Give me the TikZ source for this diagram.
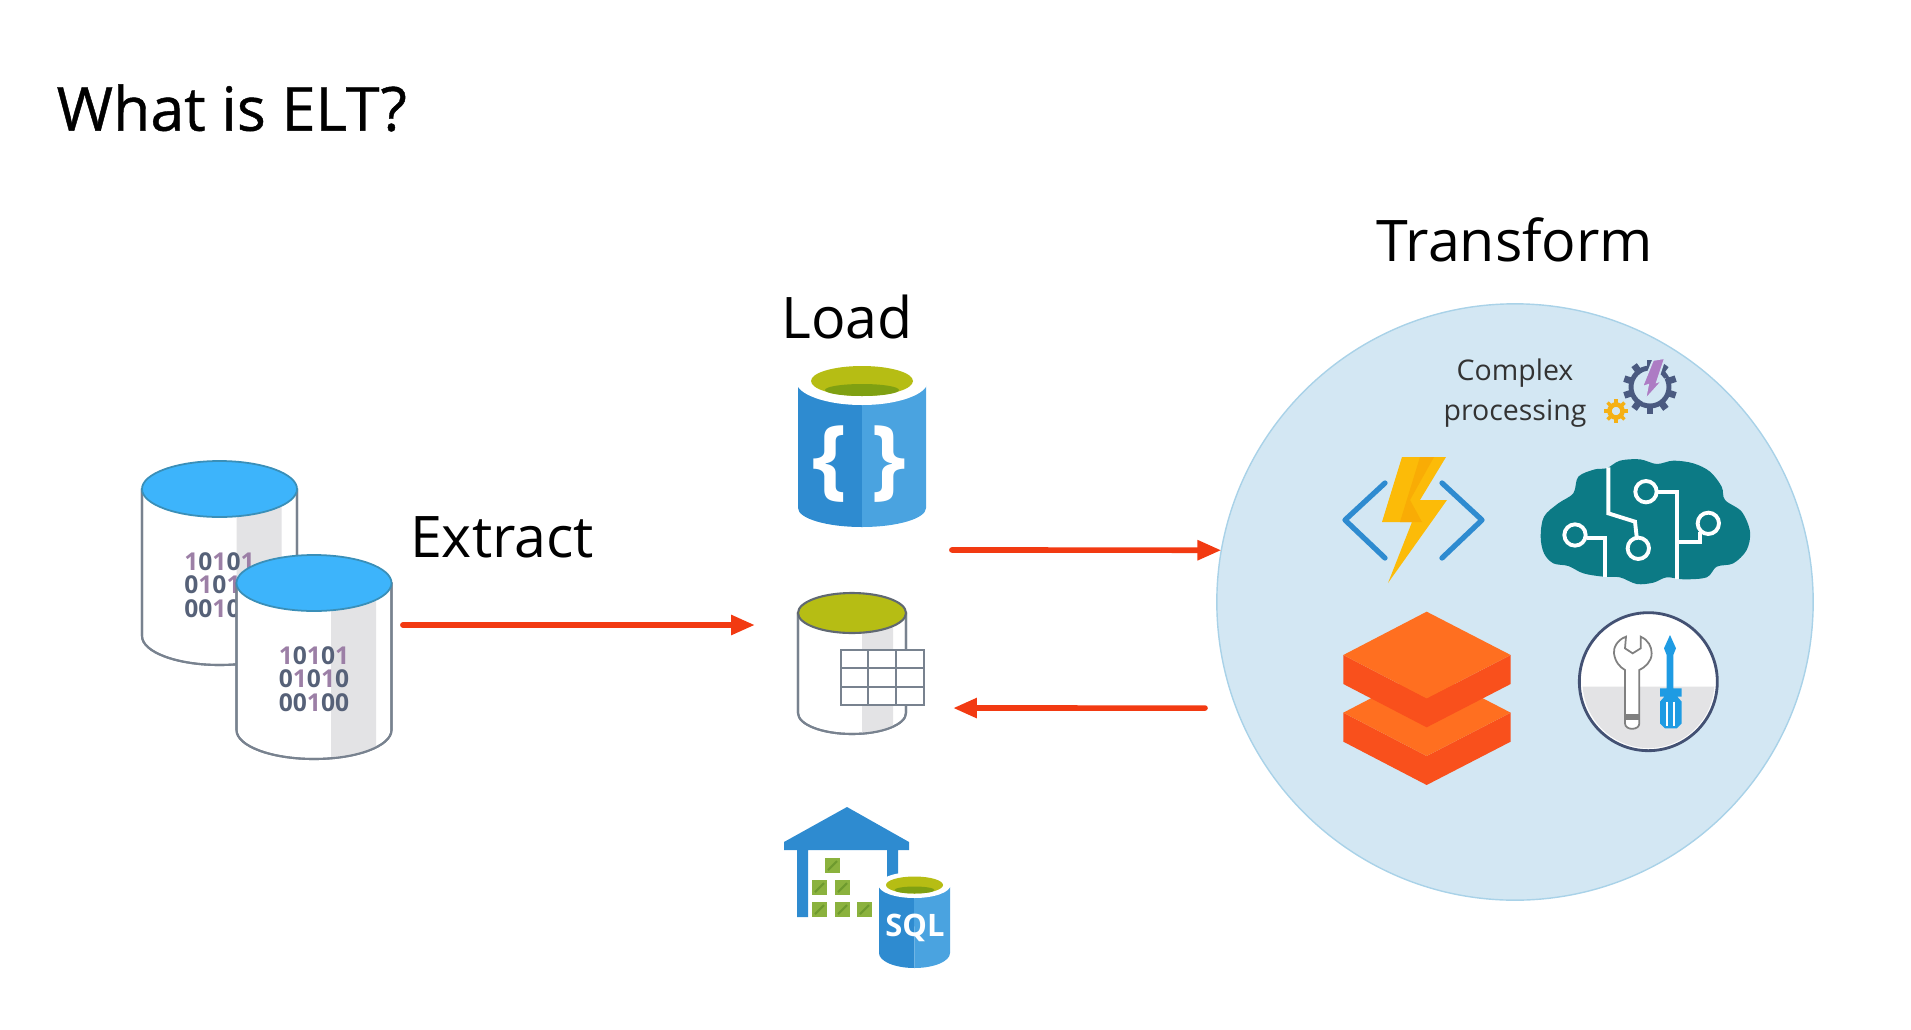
\documentclass[tikz,border=0pt]{standalone}
\usepackage{fontspec}
\setmainfont{Open Sans}
\newfontfamily\titlefont[FakeBold=0.7]{Open Sans}
\usetikzlibrary{arrows.meta,positioning}
\definecolor{wallline}{HTML}{78828F}
\definecolor{dbtop}{HTML}{3DB4FB}
\definecolor{dbtopline}{HTML}{3A8FB8}
\definecolor{bandgray}{HTML}{E3E3E5}
\definecolor{bitone}{HTML}{9C7FA6}
\definecolor{bitzero}{HTML}{566178}
\definecolor{olive}{HTML}{B6BD14}
\definecolor{olivedark}{HTML}{7FA012}
\definecolor{bluedark}{HTML}{2E8BD0}
\definecolor{bluelight}{HTML}{4AA3E0}
\definecolor{flowred}{HTML}{F23A12}
\definecolor{circlefill}{HTML}{D3E7F3}
\definecolor{circleline}{HTML}{A9D2E8}
\definecolor{teal}{HTML}{0C7A85}
\definecolor{gearslate}{HTML}{4A5A80}
\definecolor{boltpurple}{HTML}{AD7CC4}
\definecolor{gearamber}{HTML}{F5B014}
\definecolor{boltgold}{HTML}{FCBB08}
\definecolor{boltdeep}{HTML}{F9AC05}
\definecolor{layertop}{HTML}{FF6F20}
\definecolor{layerside}{HTML}{F9501C}
\definecolor{crategreen}{HTML}{8BB23E}
\definecolor{crateline}{HTML}{6E9A2E}
\definecolor{driverblue}{HTML}{1E9BE3}
\newcommand{\one}{\textcolor{bitone}{1}}
\begin{document}
\begin{tikzpicture}[x=0.01cm, y=-0.01cm,
    iconbox/.style={rectangle, inner sep=0pt, outer sep=0pt},
    heading/.style={inner sep=0pt, font=\fontsize{16.3}{20}\selectfont},
    wall/.style={draw=wallline, line width=0.6pt, fill=white},
    flow/.style={-{Triangle[length=6.8pt,width=5.4pt]}, draw=flowred, line cap=round, line width=1.6pt, shorten <=.8pt},
    bitnum/.style={inner sep=0pt, align=center, text=bitzero, font=\fontsize{7}{6.7}\selectfont\bfseries},
    brainline/.style={draw=white, line width=1.1pt}]
    \useasboundingbox (0,0) rectangle (1911,1030);

    % main blocks
    \node[iconbox, minimum width=2.58cm, minimum height=3cm] (source) at (271,625) {};
    \node[iconbox, minimum width=1.94cm, minimum height=1.8cm] (store) at (852,625) {};
    \node[iconbox, node distance=1.79cm, above of=store, minimum width=1.3cm, minimum height=1.6cm] (lake) {};
    \node[iconbox, node distance=2.63cm, below of=store, minimum width=1.7cm, minimum height=1.6cm] (warehouse) {};
    \node[circle, draw=circleline, fill=circlefill, line width=0.4pt, inner sep=0pt, outer sep=0pt, minimum size=5.96cm] (transform) at (1515,602) {};

    \node[heading, anchor=west, font=\fontsize{17.3}{20}\titlefont] (title) at (56,108) {What is ELT?};
    \node[heading, node distance=3.62cm, above of=transform] (transformlabel) {Transform};
    \node[heading, node distance=1.29cm, above of=lake, xshift=-.05cm] (loadlabel) {Load};
    \node[heading] (extractlabel) at (502,537) {Extract};
    \node[inner sep=0pt, align=center, text=black!80, font=\fontsize{8.1}{11.3}\selectfont] (complex) at (1515,393) {Complex\\processing};

    % source databases
    \foreach \n/\cx/\cy in {1/219.5/489, 2/314/583}{
        \path[wall] ({\cx-77.5},\cy) -- ({\cx-77.5},{\cy+147}) arc[start angle=180, end angle=0, x radius=77.5, y radius=29] -- ({\cx+77.5},\cy) -- cycle;
        \fill[bandgray] ({\cx+17},\cy) -- ({\cx+17},{\cy+175}) .. controls ({\cx+35},{\cy+173}) and ({\cx+50},{\cy+169}) .. ({\cx+62},{\cy+164}) -- ({\cx+62},\cy) -- cycle;
        \draw[wall, fill=none] ({\cx-77.5},\cy) -- ({\cx-77.5},{\cy+147}) arc[start angle=180, end angle=0, x radius=77.5, y radius=29] -- ({\cx+77.5},\cy);
        \node[bitnum] (bits\n) at (\cx,{\cy+96}) {\one0\one0\one\\0\one0\one0\\00\one00};
        \draw[draw=dbtopline, fill=dbtop, line width=0.5pt] (\cx,\cy) ellipse[x radius=77.5, y radius=28];
    }

    % lake cylinder
    \fill[bluedark] (798,385) -- (798,508) arc[start angle=180, end angle=90, x radius=64, y radius=19] -- (862,385) -- cycle;
    \fill[bluelight] (926,385) -- (926,508) arc[start angle=0, end angle=90, x radius=64, y radius=19] -- (862,385) -- cycle;
    \fill[white] (862,381) ellipse[x radius=66, y radius=24];
    \fill[olive] (862,381) ellipse[x radius=51, y radius=15];
    \fill[olivedark] (862,390) ellipse[x radius=37, y radius=6];
    \node[inner sep=0pt, text=white, font=\fontsize{25}{25}\selectfont\bfseries] (openbrace) at (830,464) {\{};
    \node[inner sep=0pt, text=white, font=\fontsize{25}{25}\selectfont\bfseries] (closebrace) at (889,464) {\}};

    % table cylinder
    \path[wall] (798,613) -- (798,713) arc[start angle=180, end angle=0, x radius=54, y radius=21] -- (906,613) -- cycle;
    \fill[bandgray] (862,613) -- (862,733.6) .. controls (875,733) and (885,730) .. (893,726.7) -- (893,613) -- cycle;
    \draw[wall, fill=none] (798,613) -- (798,713) arc[start angle=180, end angle=0, x radius=54, y radius=21] -- (906,613);
    \draw[draw=wallline!80!black, fill=olive, line width=0.6pt] (852,613) ellipse[x radius=54, y radius=20];
    \draw[draw=wallline, fill=white, line width=0.6pt] (841,650) rectangle (924,705);
    \draw[draw=wallline, line width=0.6pt] (868,650) -- (868,705) (896,650) -- (896,705) (841,668) -- (924,668) (841,687) -- (924,687);

    % warehouse
    \fill[bluedark] (784,842) -- (847,807) -- (909,842) -- (909,850) -- (898,850) -- (898,880) -- (887,880) -- (887,850) -- (808,850) -- (808,917) -- (797,917) -- (797,850) -- (784,850) -- cycle;
    \foreach \bx/\by in {825/858, 812/880, 835/880, 812/902, 835/902, 857/902}{
        \fill[crategreen] (\bx,\by) rectangle ++(15,15);
        \draw[crateline, line width=0.6pt] ({\bx+3},{\by+12}) -- ({\bx+12},{\by+3});
    }
    \fill[bluedark] (879,887) -- (879,953) arc[start angle=180, end angle=90, x radius=35.5, y radius=15] -- (914,887) -- cycle;
    \fill[bluelight] (950,887) -- (950,953) arc[start angle=0, end angle=90, x radius=35.5, y radius=15] -- (914,887) -- cycle;
    \fill[white] (914.5,885) ellipse[x radius=36, y radius=13];
    \fill[olive] (914.5,885) ellipse[x radius=28.5, y radius=8.5];
    \fill[olivedark] (914.5,890) ellipse[x radius=20, y radius=3.5];
    \node[inner sep=0pt, text=white, font=\fontsize{8.8}{10}\selectfont\bfseries] (sqllabel) at (915,928) {SQL};

    % gears
    \foreach \a in {0,36,...,324}{
        \draw[draw=gearslate, line width=1.9pt] (1650,387) ++(\a+18:20) -- ++(\a+18:7);
    }
    \draw[draw=gearslate, line width=1.4pt] (1650,387) circle (19);
    \fill[draw=circlefill, line width=0.5pt, fill=boltpurple] (1653,360) -- (1665,358) -- (1657,382) -- (1663,380) -- (1645,400) -- (1648,385) -- (1642,387) -- cycle;
    \foreach \a in {0,45,...,315}{
        \draw[draw=gearamber, line width=1pt] (1616,411) ++(\a:7) -- ++(\a:5);
    }
    \draw[draw=gearamber, line width=1.3pt] (1616,411) circle (6.5);

    % functions icon
    \draw[draw=bluedark, line width=1.5pt, line cap=round, line join=round] (1385,483) -- (1345,520) -- (1385,558) (1442,483) -- (1482,520) -- (1442,558);
    \fill[boltgold] (1402,457) -- (1446,457) -- (1420,500) -- (1447,500) -- (1388,583) -- (1412,522) -- (1382,522) -- cycle;
    \fill[boltdeep] (1420,457) -- (1434,457) -- (1410,500) -- (1422,522) -- (1412,522) -- (1400,522) -- cycle;

    % brain icon
    \begin{scope}[shift={(1320,340)}, scale=1/3]
        \fill[teal] plot[smooth cycle, tension=0.55] coordinates {(662,590) (672,530) (715,490) (760,460) (775,410) (825,388) (860,385) (900,362) (960,358) (1010,372) (1060,362) (1120,370) (1170,395) (1205,440) (1215,480) (1265,515) (1290,575) (1280,630) (1240,670) (1190,680) (1160,712) (1090,718) (1040,712) (1000,728) (950,732) (900,712) (850,710) (790,700) (745,678) (700,670) (672,640)};
        \draw[brainline] (865,382) -- (865,520) -- (945,545) -- (950,590);
        \draw[brainline] (800,595) -- (855,595) -- (855,712);
        \draw[brainline] (1015,455) -- (1070,455) -- (1070,717);
        \draw[brainline] (1140,575) -- (1140,605) -- (1075,605);
        \draw[brainline] (765,585) circle (32) (955,625) circle (32) (978,455) circle (32) (1165,550) circle (32);
    \end{scope}

    % layers icon
    \begin{scope}[shift={(1320,590)}, scale=1/3]
        \foreach \dy in {173,0}{
            \fill[layerside] (70,{195+\dy}) -- (320,{325+\dy}) -- (572,{195+\dy}) -- (572,{282+\dy}) -- (320,{412+\dy}) -- (70,{282+\dy}) -- cycle;
            \fill[layertop] (320,{65+\dy}) -- (572,{195+\dy}) -- (320,{325+\dy}) -- (70,{195+\dy}) -- cycle;
        }
    \end{scope}

    % tools icon
    \begin{scope}[shift={(1320,590)}, scale=1/3]
        \fill[white] (985,275) circle (207);
        \fill[bandgray] (787,290) -- (1183,290) arc[start angle=4, end angle=176, x radius=198, y radius=198] -- cycle;
        \draw[draw=gearslate!90!black, line width=0.8pt] (985,275) circle (207);
        \draw[draw=gray, fill=white, line width=0.5pt] (918,140) .. controls (890,150) and (880,175) .. (882,190) .. controls (885,215) and (900,232) .. (915,240) -- (915,400) .. controls (915,422) and (958,422) .. (958,400) -- (958,240) .. controls (975,232) and (995,215) .. (995,190) .. controls (995,170) and (985,150) .. (962,140) -- (962,175) -- (938,190) -- (915,175) -- cycle;
        \fill[gray] (917,372) rectangle (956,390);
        \fill[driverblue] (1050,135) -- (1068,175) -- (1060,195) -- (1060,295) -- (1085,295) -- (1085,320) -- (1072,320) -- (1085,335) -- (1085,400) -- (1070,415) -- (1035,415) -- (1020,400) -- (1020,335) -- (1033,320) -- (1020,320) -- (1020,295) -- (1040,295) -- (1040,195) -- (1032,175) -- cycle;
        \draw[draw=white, line width=0.5pt] (1042,335) -- (1042,408) (1063,335) -- (1063,408);
    \end{scope}

    % arrows between blocks
    \coordinate (loadout) at ([yshift=.75cm]store.east);
    \coordinate (loadback) at ([xshift=.04cm, yshift=-.83cm]store.east);
    \coordinate (transformout) at ([xshift=-.09cm, yshift=-1.06cm]transform.west);
    \draw[flow] (source.east) -- (store.west);
    \draw[flow] (loadout) -- (transform.170);
    \draw[flow] (transformout) -- (loadback);
\end{tikzpicture}
\end{document}
